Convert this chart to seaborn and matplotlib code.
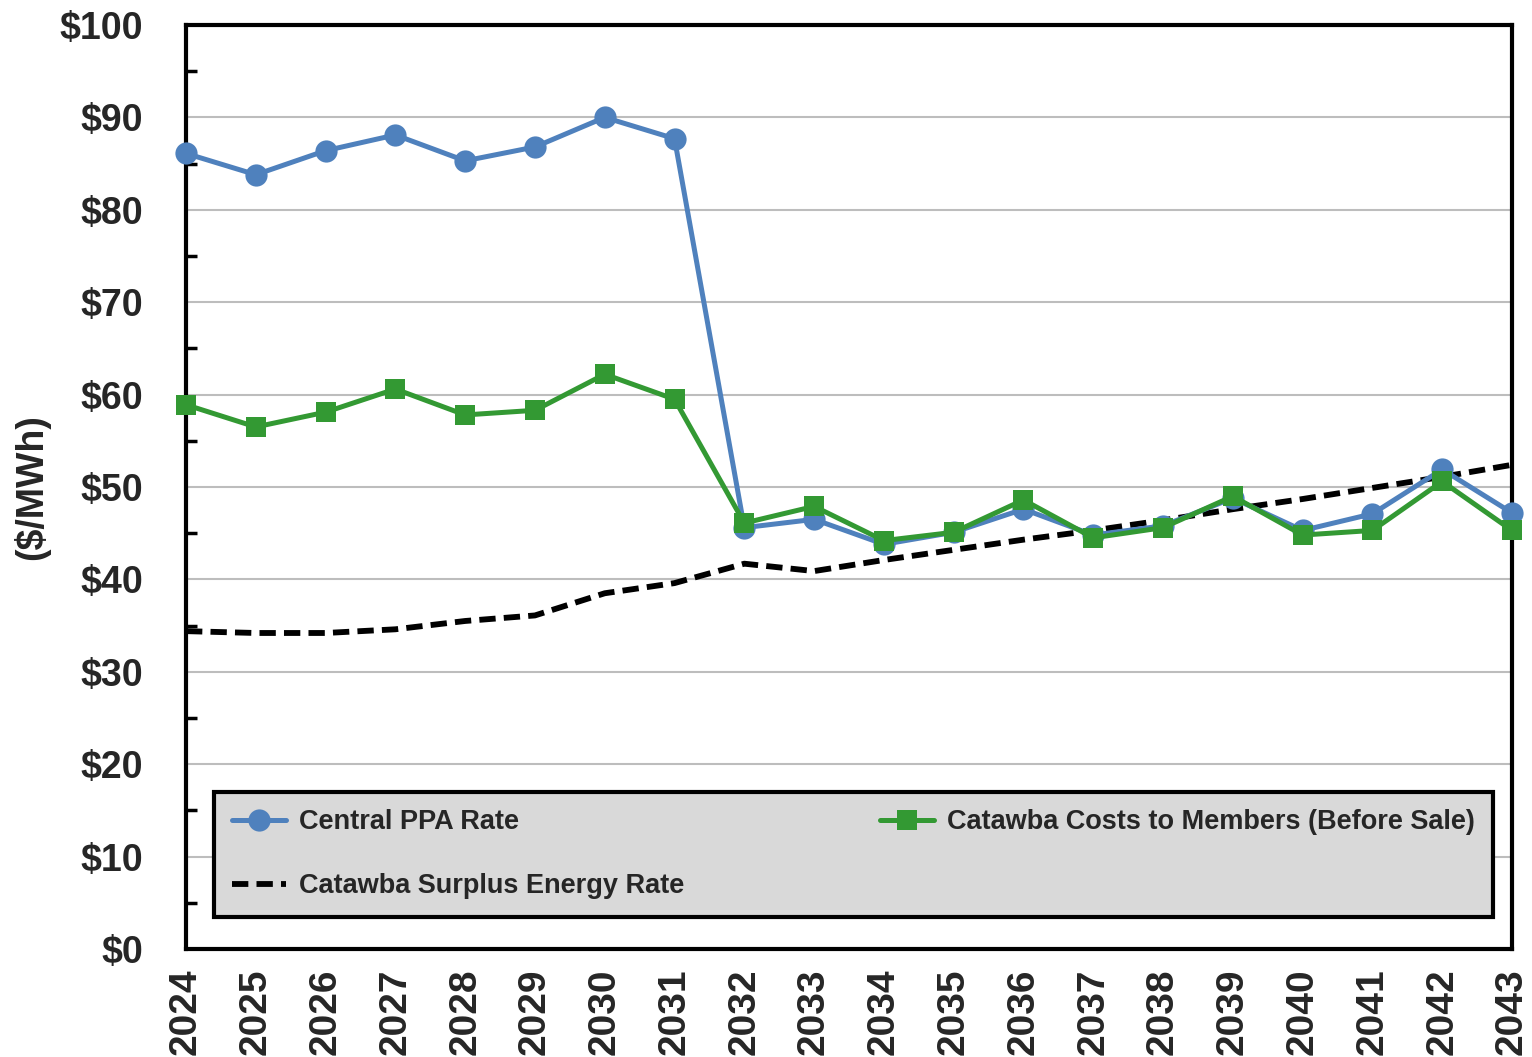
import matplotlib
matplotlib.use("Agg")
import matplotlib.pyplot as plt
import matplotlib.ticker as mticker
import seaborn as sns
import pandas as pd

years = list(range(2024, 2044))
central_ppa = [86.1, 83.8, 86.4, 88.1, 85.3, 86.8, 90.0, 87.7, 45.6, 46.5,
               43.8, 45.1, 47.6, 44.8, 45.8, 48.8, 45.3, 47.1, 51.9, 47.2]
catawba_costs = [58.9, 56.5, 58.1, 60.6, 57.8, 58.3, 62.2, 59.5, 46.1, 47.9,
                 44.2, 45.1, 48.6, 44.5, 45.6, 49.0, 44.8, 45.3, 50.6, 45.3]
surplus_rate = [34.4, 34.2, 34.2, 34.6, 35.5, 36.1, 38.5, 39.6, 41.7, 40.9,
                42.1, 43.2, 44.3, 45.3, 46.4, 47.6, 48.7, 49.9, 51.1, 52.4]
y_ticks = list(range(0, 101, 10))

sns.set_theme(style="white")
plt.rcParams['font.family'] = ['Liberation Sans', 'DejaVu Sans']

df = pd.DataFrame({"year": years, "ppa": central_ppa, "cost": catawba_costs, "surplus": surplus_rate})

fig = plt.figure(figsize=(15.32, 10.57), dpi=100)
ax = fig.add_axes([186/1532, 1 - 949/1057, (1512-186)/1532, (949-25)/1057])

blue = "#4f81bd"
green = "#339933"

sns.lineplot(data=df, x="year", y="ppa", ax=ax, color=blue, lw=3.6, marker="o",
             markersize=16, markeredgewidth=0, label="Central PPA Rate", clip_on=False, zorder=4)
sns.lineplot(data=df, x="year", y="surplus", ax=ax, color="black", lw=4.2,
             label="Catawba Surplus Energy Rate", clip_on=False, zorder=3)
ax.lines[-1].set_dashes([2.8, 1.4])
sns.lineplot(data=df, x="year", y="cost", ax=ax, color=green, lw=3.6, marker="s",
             markersize=15, markeredgewidth=0, label="Catawba Costs to Members (Before Sale)",
             clip_on=False, zorder=5)

ax.set_xlim(2024, 2043)
ax.set_ylim(0, 100)
ax.set_xticks(years)
ax.set_xticklabels([str(y) for y in years], rotation=90, fontsize=28, fontweight="bold")
ax.set_yticks(y_ticks)
ax.set_yticklabels([f"${v}" for v in y_ticks], fontsize=27, fontweight="bold")
ax.yaxis.set_minor_locator(mticker.MultipleLocator(5))
ax.tick_params(axis="both", which="major", direction="inout", length=18, width=2.5, color="black")
ax.tick_params(axis="y", which="major", pad=22)
ax.tick_params(axis="x", which="major", pad=5)
ax.tick_params(axis="y", which="minor", direction="in", length=8, width=2.5, color="black", left=True)
ax.grid(axis="y", which="major", color="#bdbdbd", lw=1.5, zorder=0)
for s in ax.spines.values():
    s.set_color("black")
    s.set_linewidth(3)
    s.set_zorder(2)
ax.set_xlabel("")
ax.set_ylabel("($/MWh)", fontsize=27, fontweight="bold", labelpad=7)

h, l = ax.get_legend_handles_labels()
order = [0, 1, 2]
leg = ax.legend([h[i] for i in order], [l[i] for i in order], ncol=2,
                loc="lower left", bbox_to_anchor=(28/1326, 32/924),
                frameon=True, fancybox=False, facecolor="#d9d9d9",
                edgecolor="black", framealpha=1, borderaxespad=0, handlelength=2.0,
                handletextpad=0.5, labelspacing=1.4, borderpad=0.65, columnspacing=7.2,
                prop={"size": 19.5, "weight": "bold"})
leg.get_frame().set_linewidth(3)
leg.set_zorder(10)

fig.savefig("out.png", dpi=100, facecolor="white")
